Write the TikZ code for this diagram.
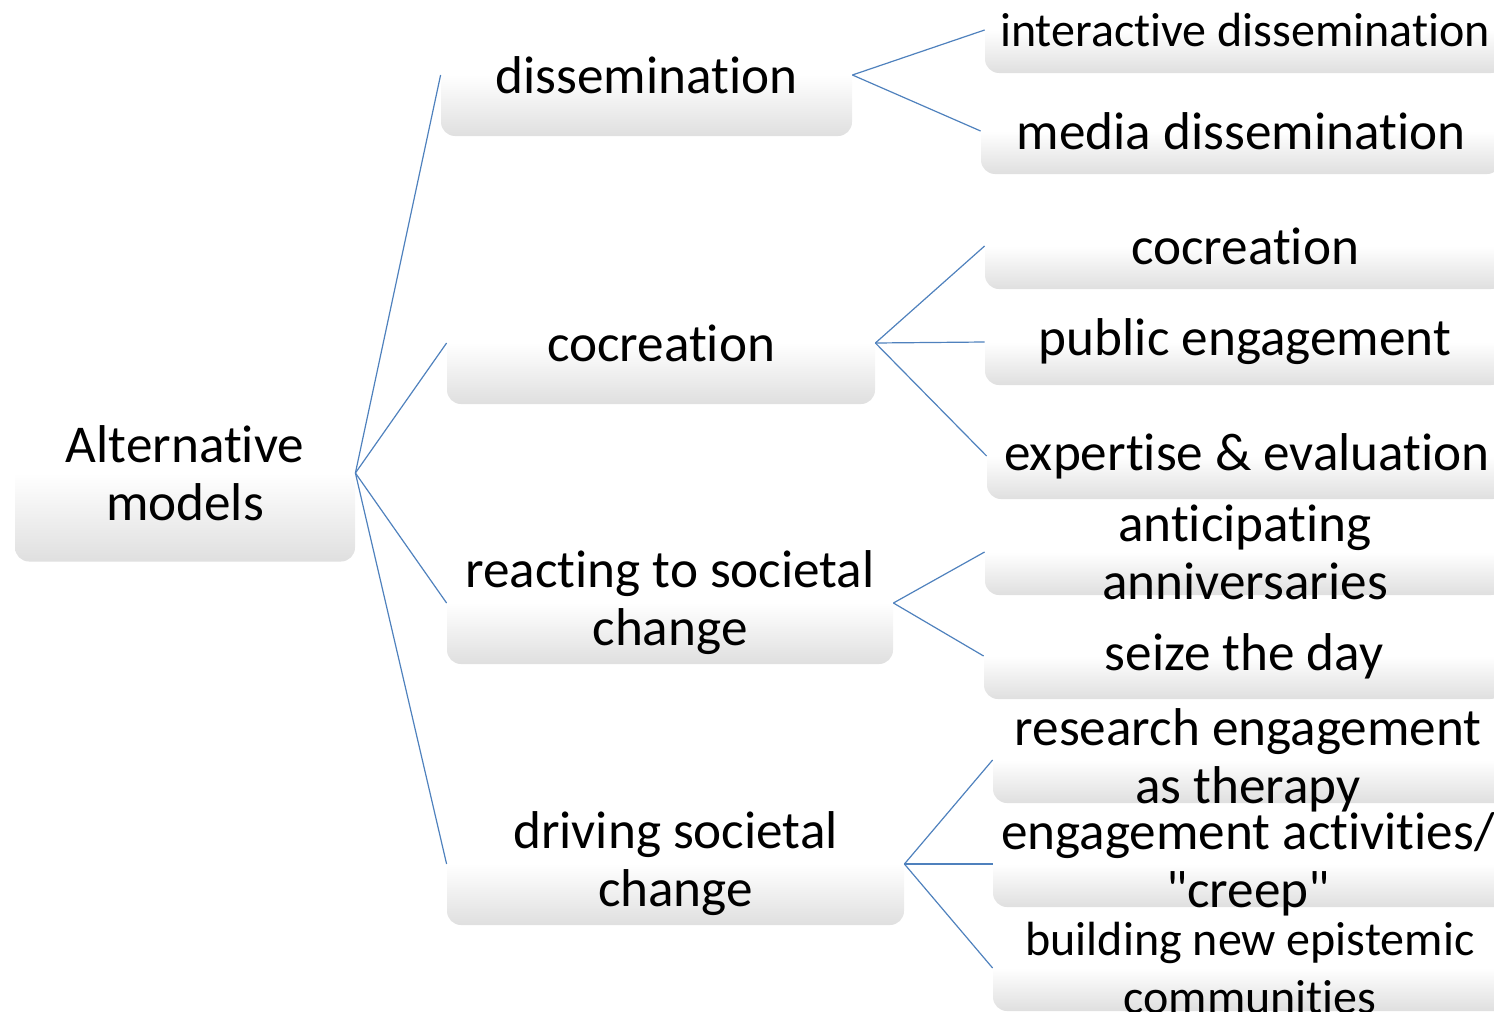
\documentclass[tikz,border=0pt]{standalone}
\usepackage{fontspec}
\setmainfont{Carlito}[Ligatures={TeXOff,CommonOff}]
% keep t and i apart (no ti ligature)
\XeTeXinterchartokenstate=1
\newXeTeXintercharclass\tclass
\newXeTeXintercharclass\iclass
\XeTeXcharclass`t=\tclass
\XeTeXcharclass`i=\iclass
\XeTeXinterchartoks\tclass\iclass={\kern0pt }
\definecolor{linkblue}{HTML}{4F81BD}
\begin{document}
\begin{tikzpicture}[x=0.5pt, y=-0.5pt,
  box/.style={rounded corners=7pt, top color=white, bottom color=gray!25, middle color=white, inner sep=0pt},
  mid/.style={box, minimum height=61pt},
  leaf/.style={box, minimum width=260pt, minimum height=43pt},
  txt/.style={font=\fontsize{26.6}{29}\selectfont, align=center, inner sep=0pt},
  link/.style={linkblue, line width=0.6pt}]
\path[use as bounding box, clip] (0,0) rectangle (1494,1012);

% root
\node[box, minimum width=170pt, minimum height=88.5pt] (root) at (185,473) {};
\node[txt] (root-t) at (root) {Alternative\\models};

% middle column
\node[mid, minimum width=205.5pt] (diss) at (646.5,75) {};
\node[txt] (diss-t) at (diss) {dissemination};
\node[mid, minimum width=214pt] (cocr) at (661,343) {};
\node[txt] (cocr-t) at (cocr) {cocreation};
\node[mid, minimum width=223pt] (react) at (670,603) {};
\node[txt] (react-t) at (react) {reacting to societal\\change};
\node[mid, minimum width=228.5pt] (drive) at (675.5,864) {};
\node[txt] (drive-t) at (drive) {driving societal\\change};

% right column
\node[leaf] (inter) at (1245,30) {};
\node[txt, font=\fontsize{24}{29}\selectfont] (inter-t) at (inter) {interactive dissemination};
\node[leaf] (media) at (1241,131) {};
\node[txt] (media-t) at (media) {media dissemination};
\node[leaf] (cocr2) at (1245,246) {};
\node[txt] (cocr2-t) at (cocr2) {cocreation};
\node[leaf] (public) at (1245,342) {};
\node[txt] (public-t) at (public) {public engagement};
\node[leaf] (expert) at (1247,456) {};
\node[txt] (expert-t) at (expert) {expertise \& evaluation};
\node[leaf] (antic) at (1245,552) {};
\node[txt] (antic-t) at (antic) {anticipating\\anniversaries};
\node[leaf] (seize) at (1244,656) {};
\node[txt] (seize-t) at (seize) {seize the day};
\node[leaf] (therapy) at (1253,760) {};
\node[txt] (therapy-t) at (1248,760) {research engagement\\as therapy};
\node[leaf] (creep) at (1253,864) {};
\node[txt] (creep-t) at (1248,864) {engagement activities/\\"creep"};
\node[leaf] (epist) at (1253,968) {};
\node[txt, font=\fontsize{24}{29}\selectfont] (epist-t) at (1250,968) {building new epistemic\\communities};

% connectors
\draw[link] (root.east) -- (diss.west);
\draw[link] (root.east) -- (cocr.west);
\draw[link] (root.east) -- (react.west);
\draw[link] (root.east) -- (drive.west);
\draw[link] (diss.east) -- (inter.west);
\draw[link] (diss.east) -- (media.west);
\draw[link] (cocr.east) -- (cocr2.west);
\draw[link] (cocr.east) -- (public.west);
\draw[link] (cocr.east) -- (expert.west);
\draw[link] (react.east) -- (antic.west);
\draw[link] (react.east) -- (seize.west);
\draw[link] (drive.east) -- (therapy.west);
\draw[link] (drive.east) -- (creep.west);
\draw[link] (drive.east) -- (epist.west);
\end{tikzpicture}
\end{document}
